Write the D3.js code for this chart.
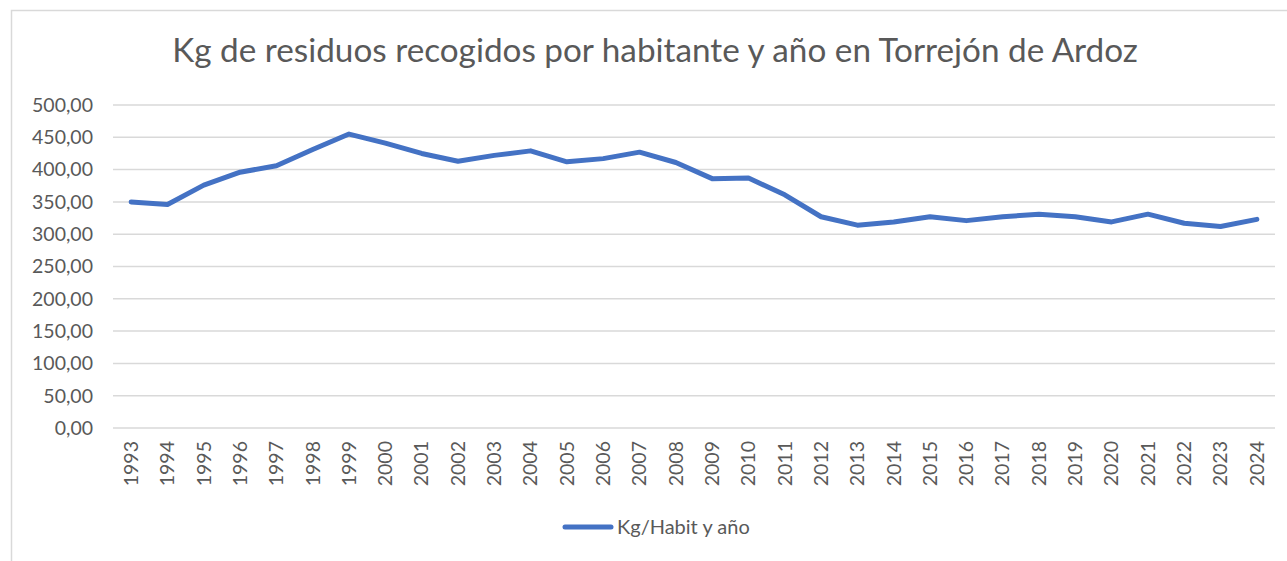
<!DOCTYPE html>
<html>
<head>
<meta charset="utf-8">
<script src="https://cdn.jsdelivr.net/npm/d3@7"></script>
<style>
  body { margin: 0; background: #fff; }
  text { font-family: Lato, "Open Sans", sans-serif; fill: #595959; }
</style>
</head>
<body>
<svg id="chart" width="1287" height="561"></svg>
<script>
const years = ["1993","1994","1995","1996","1997","1998","1999","2000","2001","2002","2003","2004","2005","2006","2007","2008",
  "2009","2010","2011","2012","2013","2014","2015","2016","2017","2018","2019","2020","2021","2022","2023","2024"];
const kgHabit = [350, 346, 376, 396, 406, 431, 455, 441, 425, 413, 422, 429, 412, 417, 427, 411,
  386, 387, 361, 327, 314, 319, 327, 321, 327, 331, 327, 319, 331, 317, 312, 323];
const yTicks = [0, 50, 100, 150, 200, 250, 300, 350, 400, 450, 500];
const titleText = "Kg de residuos recogidos por habitante y año en Torrejón de Ardoz";
const seriesName = "Kg/Habit y año";

const svg = d3.select("#chart");
const margin = { left: 113, right: 1275, top: 105, bottom: 428 };

// outer chart border
svg.append("rect")
  .attr("x", 11.5).attr("y", 10.5)
  .attr("width", 1300).attr("height", 600)
  .attr("fill", "none").attr("stroke", "#d9d9d9").attr("stroke-width", 1.5);

const x = d3.scaleBand().domain(years).range([margin.left, margin.right]);
const y = d3.scaleLinear().domain([0, 500]).range([margin.bottom, margin.top]);

// gridlines
svg.append("g")
  .selectAll("line")
  .data(yTicks)
  .enter()
  .append("line")
  .attr("x1", margin.left).attr("x2", margin.right)
  .attr("y1", d => y(d)).attr("y2", d => y(d))
  .attr("stroke", "#d9d9d9").attr("stroke-width", 1.5);

const fmt = d => d3.format(".2f")(d).replace(".", ",");

// y labels
svg.append("g")
  .selectAll("text")
  .data(yTicks)
  .enter()
  .append("text")
  .attr("x", 93)
  .attr("y", d => y(d))
  .attr("dy", "0.35em")
  .attr("text-anchor", "end")
  .style("font-size", "19.5px")
  .text(fmt);

// x labels, rotated
svg.append("g")
  .selectAll("text")
  .data(years)
  .enter()
  .append("text")
  .attr("transform", d => `translate(${x(d) + x.bandwidth() / 2},441) rotate(-90)`)
  .attr("dy", "0.35em")
  .attr("text-anchor", "end")
  .style("font-size", "19.5px")
  .text(d => d);

// line
const line = d3.line()
  .x((d, i) => x(years[i]) + x.bandwidth() / 2)
  .y(d => y(d));

svg.append("path")
  .datum(kgHabit)
  .attr("d", line)
  .attr("fill", "none")
  .attr("stroke", "#4472c4")
  .attr("stroke-width", 5)
  .attr("stroke-linejoin", "round")
  .attr("stroke-linecap", "round");

// title
const title = svg.append("text")
  .attr("x", 655)
  .attr("y", 62)
  .attr("text-anchor", "middle")
  .style("font-size", "28px")
  .text(titleText);
const tw = title.node().getComputedTextLength();
title.style("font-size", (28 * 966 / tw) + "px");

// legend
svg.append("line")
  .attr("x1", 565).attr("x2", 611)
  .attr("y1", 527).attr("y2", 527)
  .attr("stroke", "#4472c4").attr("stroke-width", 5)
  .attr("stroke-linecap", "round");

svg.append("text")
  .attr("x", 617)
  .attr("y", 527)
  .attr("dy", "0.35em")
  .style("font-size", "20px")
  .text(seriesName);
</script>
</body>
</html>
